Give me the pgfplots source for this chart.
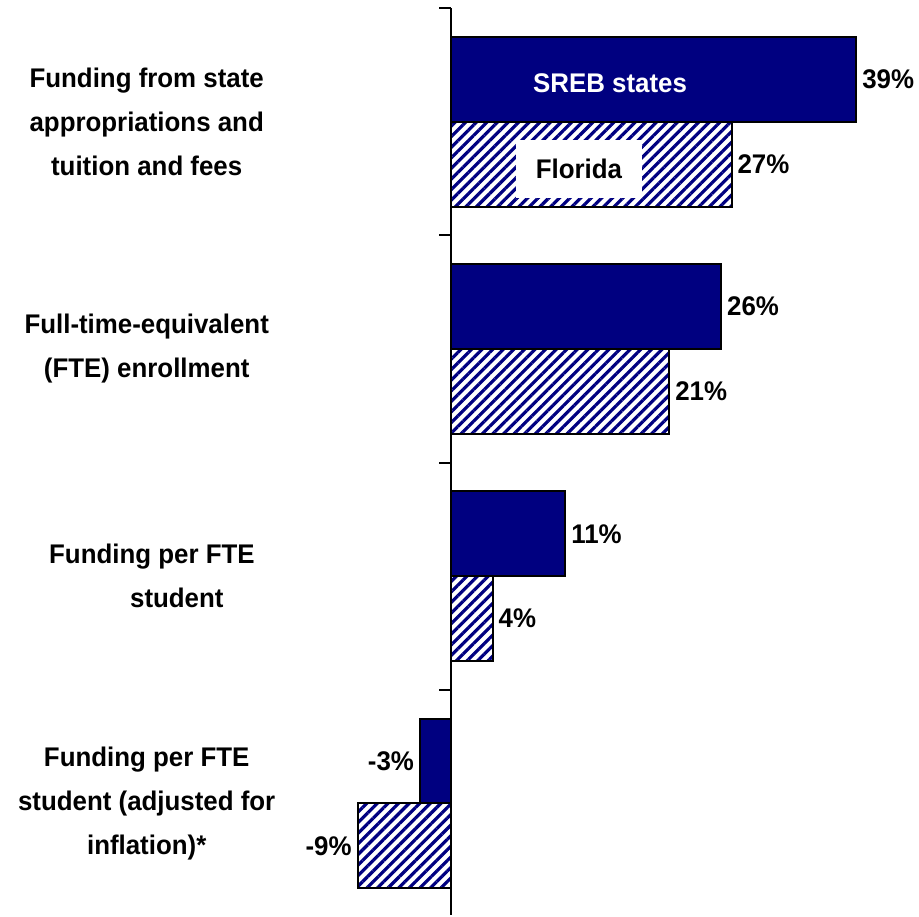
\documentclass[border=0pt]{standalone}
\usepackage{fontspec}
\setmainfont{Liberation Sans}[FakeStretch=0.96]
\usepackage{pgfplots}
\pgfplotsset{compat=1.18}
\usetikzlibrary{patterns.meta}
\definecolor{srebnavy}{RGB}{0,0,128}

\begin{document}
\begin{tikzpicture}
\begin{axis}[
    scale only axis,
    width=459.5pt,
    height=458.5pt,
    xbar,
    hide axis,
    clip=false,
    xmin=-43.42, xmax=44.86,
    ymin=-0.536, ymax=3.492,
    y dir=reverse,
    bar width=0.373,
    point meta=x,
    nodes near coords={\pgfmathprintnumber[assume math mode=true]{\pgfplotspointmeta}\%},
    nodes near coords align=horizontal,
    every node near coord/.append style={font=\bfseries\fontsize{13.5}{15}\selectfont, inner sep=2.5pt, text=black},
]
\path (rel axis cs:0,0) rectangle (rel axis cs:1,1);
% SREB states
\addplot[draw=black, line width=1pt, fill=srebnavy, bar shift=-0.1867]
    coordinates {(39,0) (26,1) (11,2) (-3,3)};
% Florida
\addplot[draw=black, line width=1pt, pattern={Lines[angle=45,distance=3.75pt,line width=1.6pt]}, pattern color=srebnavy, bar shift=0.1867]
    coordinates {(27,0) (21,1) (4,2) (-9,3)};

% vertical axis and ticks
\draw[line width=1pt] (axis cs:0,-0.5) -- (axis cs:0,3.492);
\pgfplotsinvokeforeach{-0.5,0.5,1.5,2.5}{
    \draw[line width=1pt] (axis cs:0,#1) -- ++(-6pt,0pt);
}

% in-bar labels
\node[font=\bfseries\fontsize{13.5}{15}\selectfont, text=white] at (axis cs:15.3,-0.171) {SREB states};
\node[font=\bfseries\fontsize{13.5}{15}\selectfont, fill=white, minimum width=63.5pt, minimum height=29pt, inner sep=0pt] at (axis cs:12.3,0.206) {Florida};

% category labels
\tikzset{catlabel/.style={align=center, font=\bfseries\fontsize{13.5}{22}\selectfont}}
\node[catlabel] at (axis cs:-29.3,0) {Funding from state\\appropriations and\\tuition and fees};
\node[catlabel] at (axis cs:-29.3,1) {Full-time-equivalent\\(FTE) enrollment};
\node[catlabel] at (axis cs:-28.8,2) {Funding per FTE\\\hspace*{25pt}student};
\node[catlabel] at (axis cs:-29.3,3) {Funding per FTE\\student (adjusted for\\inflation)*};
\end{axis}
\end{tikzpicture}
\end{document}
